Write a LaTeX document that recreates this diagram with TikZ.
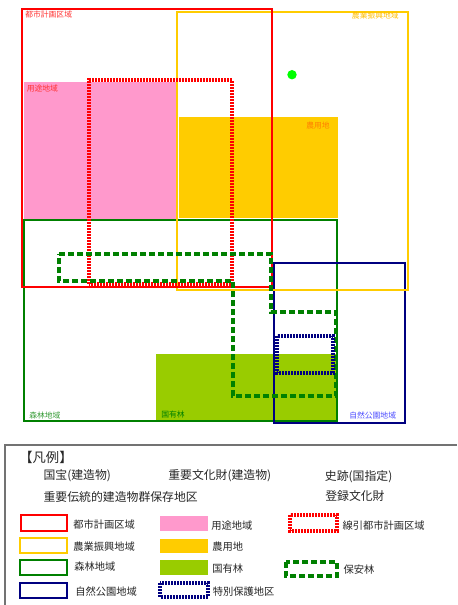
\documentclass[tikz,border=0pt]{standalone}
\usepackage{fontspec}
\setmainfont{Noto Sans CJK JP}
\usetikzlibrary{positioning}

\begin{document}
\begin{tikzpicture}[x=0.75pt, y=-0.75pt,
    cityLine/.style={draw=red, line width=2.2pt},
    farmLine/.style={draw=farmYellow, line width=2.2pt},
    forestLine/.style={draw=forestGreen, line width=2.2pt},
    parkLine/.style={draw=parkBlue, line width=2.2pt},
    cityDots/.style={draw=red, line width=2.3pt, dash pattern=on 1.4pt off 0.85pt},
    parkDots/.style={draw=parkBlue, line width=2.3pt, dash pattern=on 1.4pt off 0.85pt},
    guardDash/.style={draw=forestGreen, line width=2.3pt, dash pattern=on 4.6pt off 2.15pt},
    areaLabel/.style={font=\fontsize{5.85pt}{7pt}\selectfont, inner sep=0pt, anchor=west},
    keyLabel/.style={font=\fontsize{7.7pt}{9pt}\selectfont, text=black!85, inner sep=0pt, anchor=west},
    headLabel/.style={font=\fontsize{8.9pt}{11pt}\selectfont, text=black!85, inner sep=0pt, anchor=west},
  ]

    % Colors
    \definecolor{farmYellow}{HTML}{FFCC00}
    \definecolor{forestGreen}{HTML}{008000}
    \definecolor{parkBlue}{HTML}{000080}
    \definecolor{usePink}{HTML}{FF99CC}
    \definecolor{farmFill}{HTML}{FFCC00}
    \definecolor{stateFill}{HTML}{99CC00}

    \useasboundingbox (0,0) rectangle (457,605);

    %draw the filled areas
    \fill[usePink] (24,82) rectangle (177,219);
    \fill[farmFill] (179,117) rectangle (338,218);
    \fill[stateFill] (156,354) rectangle (336,420);

    %draw the outlines
    \draw[forestLine] (24,220) rectangle (337,421);
    \draw[parkLine] (274,263) rectangle (405,423);
    \draw[farmLine] (177,12) rectangle (408,290);
    \draw[cityDots] (89,284) -- (89,80) -- (232,80) -- (232,284) -- cycle;
    \draw[cityLine] (22,9) rectangle (272,287);
    \draw[guardDash] (59,254) -- (271,254) -- (271,312) -- (336,312)
        -- (336,396) -- (233,396) -- (233,281) -- (59,281) -- cycle;
    \draw[parkDots] (277,336) rectangle (333,373);

    %the green dot
    \fill[green] (292,74.7) circle (4.7);

    %area names
    \node[areaLabel, text=red!80!white] (cityName) at (25,14.3) {都市計画区域};
    \node[areaLabel, text=red!80!white] (useName) at (26.5,89) {用途地域};
    \node[areaLabel, text=farmYellow!80!orange] (promoName) at (351.7,16) {農業振興地域};
    \node[areaLabel, text=orange] (farmName) at (306,125.3) {農用地};
    \node[areaLabel, text=forestGreen!80!white] (forestName) at (29,415.3) {森林地域};
    \node[areaLabel, text=forestGreen] (stateName) at (161,414.3) {国有林};
    \node[areaLabel, text=blue!70!white] (parkName) at (349,416) {自然公園地域};

    %%the legend
    \draw[black!55, line width=1.5pt] (457,445) -- (5,445) -- (5,605);

    \node[headLabel, font=\fontsize{10pt}{12pt}\selectfont] (legendHead) at (19,457.3) {【凡例】};
    \node[headLabel] (treasure) at (43.3,476) {国宝(建造物)};
    \node[headLabel] (important) at (168,476) {重要文化財(建造物)};
    \node[headLabel] (historic) at (324.7,477) {史跡(国指定)};
    \node[headLabel] (district) at (43.3,497) {重要伝統的建造物群保存地区};
    \node[headLabel] (registered) at (325,496) {登録文化財};

    %legend swatches
    \draw[cityLine] (21,515) rectangle (67,531);
    \draw[farmLine] (20,538) rectangle (67,553);
    \draw[forestLine] (20,560) rectangle (67,575);
    \draw[parkLine] (20,583) rectangle (67,598);
    \fill[usePink] (160,516) rectangle (208,531);
    \fill[farmFill] (160,539) rectangle (208,553);
    \fill[stateFill] (160,560) rectangle (208,575);
    \draw[parkDots] (160,583) rectangle (208,597);
    \draw[cityDots] (290,515) rectangle (337,531);
    \draw[guardDash] (286,562) rectangle (337,576);

    %legend labels
    \node[keyLabel] (keyCity) at (73,524.7) {都市計画区域};
    \node[keyLabel] (keyPromo) at (73,546.3) {農業振興地域};
    \node[keyLabel] (keyForest) at (74,566.5) {森林地域};
    \node[keyLabel] (keyPark) at (75,591.5) {自然公園地域};
    \node[keyLabel] (keyUse) at (211,526) {用途地域};
    \node[keyLabel] (keyFarm) at (212,547) {農用地};
    \node[keyLabel] (keyState) at (212,569) {国有林};
    \node[keyLabel] (keySpecial) at (212.5,592) {特別保護地区};
    \node[keyLabel] (keyDrawn) at (342.3,525.5) {線引都市計画区域};
    \node[keyLabel] (keyGuard) at (343.3,570) {保安林};

\end{tikzpicture}
\end{document}
